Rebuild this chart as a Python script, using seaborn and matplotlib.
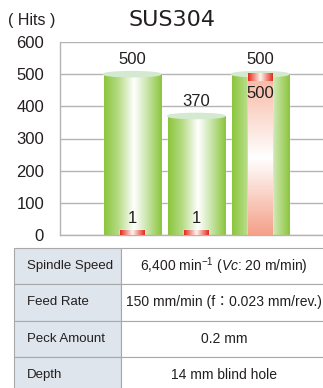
import numpy as np
import pandas as pd
import seaborn as sns
import matplotlib.pyplot as plt
from matplotlib.colors import LinearSegmentedColormap
from matplotlib.patches import Ellipse

# data
runs = ['Run 1', 'Run 2', 'Run 3']
hits_green = [500, 370, 500]
hits_red = [1, 1, 500]
param_names = ['Spindle Speed', 'Feed Rate', 'Peck Amount', 'Depth']
param_values = ['6,400 min$^{-1}$ ($\\mathit{Vc}$: 20 m/min)',
                '150 mm/min (f\uff1a0.023 mm/rev.)',
                '0.2 mm',
                '14 mm blind hole']
y_ticks = [0, 100, 200, 300, 400, 500, 600]

sns.set_style('white')
plt.rcParams['font.family'] = ['Liberation Sans', 'Noto Sans CJK JP', 'DejaVu Sans']
plt.rcParams['mathtext.fontset'] = 'custom'
plt.rcParams['mathtext.rm'] = 'Liberation Sans'
plt.rcParams['mathtext.it'] = 'Liberation Sans:italic'

txt = '#231f20'
fig = plt.figure(figsize=(3.23, 3.88), dpi=100)
ax = fig.add_axes([60 / 323, 153 / 388, 263 / 323, 193 / 388])

# small values get a visible minimum height, like the original
df = pd.DataFrame({'run': runs, 'green': hits_green,
                   'red': np.maximum(hits_red, 15)})
sns.barplot(data=df, x='run', y='green', width=0.89, color='#8ec640',
            errorbar=None, ax=ax, zorder=2)
n = len(ax.patches)
sns.barplot(data=df, x='run', y='red', width=0.375, color='#e63223',
            errorbar=None, ax=ax, zorder=4)
green_bars = ax.patches[:n]
red_bars = ax.patches[n:]

green_cm = LinearSegmentedColormap.from_list(
    'g', [(0, '#8bc53c'), (0.25, '#b6dc86'), (0.52, '#ffffff'),
          (0.72, '#cfe8b4'), (1, '#8bc53c')])
band_cm = LinearSegmentedColormap.from_list(
    'r', [(0, '#e42a1c'), (0.5, '#fff4f0'), (1, '#e42a1c')])
body_cm = LinearSegmentedColormap.from_list(
    'b', [(0, '#f4a088'), (0.5, '#ffffff'), (1, '#f8bca8')])
hgrad = np.linspace(0, 1, 256).reshape(1, -1)
vgrad = np.linspace(0, 1, 256).reshape(-1, 1)

for p in green_bars:
    x0, w, h = p.get_x(), p.get_width(), p.get_height()
    im = ax.imshow(hgrad, cmap=green_cm, extent=[x0, x0 + w, 0, h],
                   aspect='auto', origin='lower', zorder=2.5)
    im.set_clip_path(p)
    ax.add_patch(Ellipse((x0 + w / 2, h), w, 16, color='#d3ead0', zorder=3))

band = 22
for p in red_bars:
    x0, w, h = p.get_x(), p.get_width(), p.get_height()
    b = min(h, band)
    if h > b:
        ax.imshow(vgrad, cmap=body_cm, extent=[x0, x0 + w, 0, h - b],
                  aspect='auto', origin='lower', zorder=4.5)
    ax.imshow(hgrad, cmap=band_cm, extent=[x0, x0 + w, h - b, h],
              aspect='auto', origin='lower', zorder=4.5)

# value labels
for i, (g, r) in enumerate(zip(hits_green, hits_red)):
    ax.annotate(str(g), (i, g), xytext=(0, 5), textcoords='offset points',
                ha='center', va='bottom', fontsize=12, color=txt,
                annotation_clip=False, zorder=6)
    if r >= g * 0.8:
        ax.annotate(str(r), (i, r), xytext=(0, -14), textcoords='offset points',
                    ha='center', va='center', fontsize=12, color=txt, zorder=6)
    else:
        ax.annotate(str(r), (i, max(r, 15)), xytext=(0, 3),
                    textcoords='offset points', ha='center', va='bottom',
                    fontsize=12, color=txt, zorder=6)

ax.set_xlim(-1.125, 2.98)
ax.set_ylim(0, 600)
ax.set_yticks(y_ticks)
ax.set_xticks([])
ax.set_xlabel('')
ax.set_ylabel('')
ax.yaxis.grid(True, color='#b4b4b4', lw=1)
ax.set_axisbelow(True)
for s in ['top', 'right']:
    ax.spines[s].set_visible(False)
for s in ['left', 'bottom']:
    ax.spines[s].set_color('#b4b4b4')
    ax.spines[s].set_linewidth(1)
ax.tick_params(axis='y', left=False, labelsize=12, pad=8, labelcolor=txt)

fig.text(172 / 323, 1 - 20 / 388, 'SUS304', ha='center', va='center',
         fontsize=16, color=txt, family='DejaVu Sans')
fig.text(32 / 323, 1 - 21 / 388, '( Hits )', ha='center', va='center',
         fontsize=11.5, color=txt)

# parameter table
tax = fig.add_axes([14 / 323, -5 / 388, 313 / 323, 145 / 388])
tax.axis('off')
tbl = tax.table(cellText=[[a, b] for a, b in zip(param_names, param_values)],
                cellLoc='center', bbox=[0, 0, 1, 1], colWidths=[107, 206])
tbl.auto_set_font_size(False)
for (r, c), cell in tbl.get_celld().items():
    cell.set_edgecolor('#a8a8a8')
    cell.set_linewidth(0.8)
    if c == 0:
        cell.set_facecolor('#dfe5ec')
        cell._loc = 'left'
        cell.PAD = 0.12
        cell.get_text().set_ha('left')
        cell.set_text_props(fontsize=9.5, color=txt)
    else:
        cell.set_facecolor('white')
        cell.set_text_props(fontsize=10, color=txt)

fig.savefig('out.png', dpi=100)
